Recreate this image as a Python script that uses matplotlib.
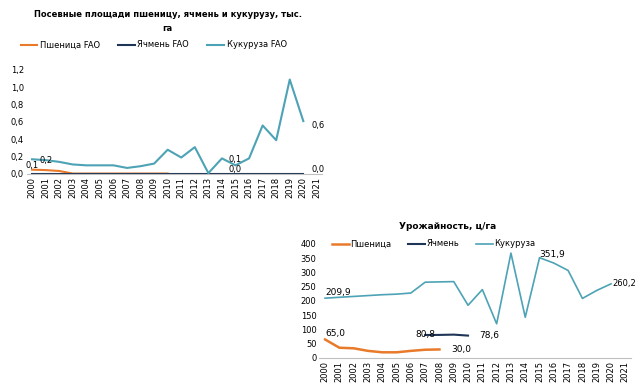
import matplotlib
matplotlib.use('Agg')
import matplotlib.pyplot as plt
import numpy as np

years = [str(y) for y in range(2000, 2022)]

# посевные площади, тыс. га
area_wheat = [0.05, 0.045, 0.035, 0.005, 0.005, 0.005, 0.005, 0.005, 0.005, 0.005, 0.005]
area_barley = [0.0] * 21
area_corn = [0.17, 0.16, 0.14, 0.11, 0.10, 0.10, 0.10, 0.07, 0.09, 0.12, 0.28,
             0.19, 0.31, 0.01, 0.18, 0.10, 0.18, 0.56, 0.39, 1.09, 0.61]

# урожайность, ц/га
yield_wheat = [65.0, 36, 34, 25, 20, 20, 25, 29, 30.0]
yield_barley_years = [7, 8, 9, 10]
yield_barley = [80.8, 81, 82, 78.6]
yield_corn = [209.9, 213, 216, 219, 222, 224, 228, 266, 267, 268, 185,
              240, 120, 368, 143, 351.9, 333, 307, 209, 237, 260.2]

C_WHEAT = '#E87A2A'
C_BARLEY = '#1F3556'
C_CORN = '#4DA3B5'


def fmt(v):
    return f'{v:.1f}'.replace('.', ',')


plt.rcParams['font.family'] = 'DejaVu Sans'
fig = plt.figure(figsize=(6.4, 3.91), dpi=100)

# --- верхний график ---
ax1 = fig.add_axes([0.0416, 0.555, 0.462, 0.266])
x = np.arange(len(years))
l1, = ax1.plot(x[:len(area_wheat)], area_wheat, color=C_WHEAT, lw=1.5)
l2, = ax1.plot(x[:len(area_barley)], area_barley, color=C_BARLEY, lw=1.5)
l3, = ax1.plot(x[:len(area_corn)], area_corn, color=C_CORN, lw=1.5)
ax1.set_xlim(-0.4, 21.4)
ax1.set_ylim(0, 1.2)
ax1.set_yticks(np.arange(0, 1.21, 0.2))
ax1.set_yticklabels([fmt(v) for v in np.arange(0, 1.21, 0.2)], fontsize=6)
ax1.set_xticks(x)
ax1.set_xticklabels(years, rotation=90, fontsize=6)
ax1.tick_params(length=0, pad=2)
for s in ['top', 'right', 'left']:
    ax1.spines[s].set_visible(False)
ax1.spines['bottom'].set_color('#BFBFBF')
ax1.text(0, area_wheat[0], fmt(0.1), fontsize=6, ha='center', va='bottom')
ax1.text(1, area_corn[1], fmt(0.2), fontsize=6, ha='center', va='center')
ax1.text(15, area_corn[15] + 0.02, fmt(0.1), fontsize=6, ha='center', va='bottom')
ax1.text(15, 0.0, fmt(0.0), fontsize=6, ha='center', va='bottom')
ax1.text(20.6, area_corn[20], fmt(0.6), fontsize=6, ha='left', va='top')
ax1.text(20.6, 0.0, fmt(0.0), fontsize=6, ha='left', va='bottom')
fig.text(0.262, 0.945, 'Посевные площади пшеницу, ячмень и кукурузу, тыс.\nга',
         ha='center', va='center', fontsize=6, fontweight='bold', linespacing=1.6)
fig.legend([l1, l2, l3], ['Пшеница FAO', 'Ячмень FAO', 'Кукуруза FAO'],
           loc='center', bbox_to_anchor=(0.24, 0.885), ncol=3, frameon=False,
           fontsize=6, handlelength=2.0, handletextpad=0.3, columnspacing=2.2)

# --- нижний график ---
ax2 = fig.add_axes([0.499, 0.0844, 0.487, 0.2916])
w1, = ax2.plot(x[:len(yield_wheat)], yield_wheat, color=C_WHEAT, lw=1.8)
w2, = ax2.plot(yield_barley_years, yield_barley, color=C_BARLEY, lw=1.5)
w3, = ax2.plot(x[:len(yield_corn)], yield_corn, color=C_CORN, lw=1.2)
ax2.set_xlim(-0.4, 21.4)
ax2.set_ylim(0, 400)
ax2.set_yticks(range(0, 401, 50))
ax2.tick_params(labelsize=6, length=0, pad=2)
ax2.set_xticks(x)
ax2.set_xticklabels(years, rotation=90, fontsize=6)
for s in ['top', 'right', 'left']:
    ax2.spines[s].set_visible(False)
ax2.spines['bottom'].set_color('#BFBFBF')
ax2.text(0, yield_corn[0] + 5, fmt(209.9), fontsize=6.5, ha='left', va='bottom')
ax2.text(0, yield_wheat[0] + 5, fmt(65.0), fontsize=6.5, ha='left', va='bottom')
ax2.text(7, yield_barley[0], fmt(80.8), fontsize=6.5, ha='center', va='center')
ax2.text(10.8, yield_barley[-1], fmt(78.6), fontsize=6.5, ha='left', va='center')
ax2.text(8.8, yield_wheat[-1], fmt(30.0), fontsize=6.5, ha='left', va='center')
ax2.text(15, yield_corn[15] - 5, fmt(351.9), fontsize=6.5, ha='left', va='bottom')
ax2.text(20.1, yield_corn[20], fmt(260.2), fontsize=6, ha='left', va='center')
fig.text(0.699, 0.42, 'Урожайность, ц/га', ha='center', va='center',
         fontsize=6.5, fontweight='bold')
fig.legend([w1, w2, w3], ['Пшеница', 'Ячмень', 'Кукуруза'],
           loc='center', bbox_to_anchor=(0.678, 0.376), ncol=3, frameon=False,
           fontsize=6, handlelength=2.0, handletextpad=0.2, columnspacing=2.0)

fig.savefig('out.png', dpi=100)
